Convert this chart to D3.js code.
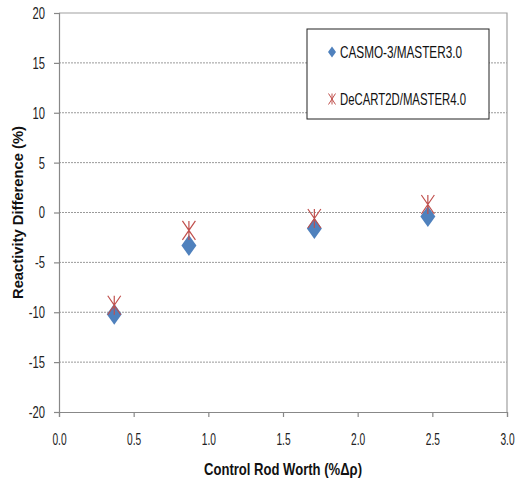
<!DOCTYPE html>
<html>
<head>
<meta charset="utf-8">
<script src="https://cdn.jsdelivr.net/npm/d3@7"></script>
<style>
  body { margin: 0; background: #fff; }
  .tick text { font-family: "Liberation Sans", Arial, sans-serif; font-size: 17px; fill: #222; }
</style>
</head>
<body>
<svg id="chart" width="517" height="482"></svg>
<script>
// values
const seriesNames = ['CASMO-3/MASTER3.0', 'DeCART2D/MASTER4.0'];
const rodWorth = [0.37, 0.87, 1.71, 2.47];
const casmoDiff = [-10.2, -3.3, -1.6, -0.4];
const decartDiff = [-9.3, -1.8, -0.6, 0.8];
const xTicks = [0, 0.5, 1, 1.5, 2, 2.5, 3];
const yTicks = [-20, -15, -10, -5, 0, 5, 10, 15, 20];

const svg = d3.select('#chart');

const plotLeft = 59, plotRight = 507, plotTop = 13, plotBottom = 412;

const x = d3.scaleLinear().domain([0, 3]).range([plotLeft, plotRight]);
const y = d3.scaleLinear().domain([-20, 20]).range([plotBottom, plotTop]);

// the reference font is tall and narrow, squeeze text horizontally
function squeeze(sel, factor) {
  sel.each(function() {
    const w = this.getComputedTextLength();
    d3.select(this).attr('textLength', w * factor).attr('lengthAdjust', 'spacingAndGlyphs');
  });
}

// gridlines
svg.append('g')
  .selectAll('line')
  .data(yTicks.filter(d => d > -20 && d < 20))
  .enter()
  .append('line')
  .attr('x1', plotLeft).attr('x2', plotRight)
  .attr('y1', d => y(d)).attr('y2', d => y(d))
  .attr('stroke', '#9a9a9a')
  .attr('stroke-dasharray', '2,1')
  .attr('stroke-width', 1);

// plot border (top & right)
svg.append('path')
  .attr('d', `M${plotLeft},${plotTop}H${plotRight}V${plotBottom}`)
  .attr('fill', 'none')
  .attr('stroke', '#a0a0a0')
  .attr('stroke-width', 1.2);

const xAxis = svg.append('g')
  .attr('transform', `translate(0, ${plotBottom})`)
  .call(d3.axisBottom(x).tickValues(xTicks).tickFormat(d3.format('.1f')).tickSizeOuter(0).tickSize(5).tickPadding(16));

const yAxis = svg.append('g')
  .attr('transform', `translate(${plotLeft}, 0)`)
  .call(d3.axisLeft(y).tickValues(yTicks).tickFormat(d3.format('d')).tickSizeOuter(0).tickSize(5).tickPadding(9));

svg.selectAll('.domain, .tick line').attr('stroke', '#888').attr('stroke-width', 1.2);
yAxis.selectAll('.tick text').text(d => d < 0 ? '-' + Math.abs(d) : d);

squeeze(xAxis.selectAll('.tick text'), 0.6);
squeeze(yAxis.selectAll('.tick text'), 0.66);

// markers
const diamond = (w, h) => `M0,${-h/2}L${w/2},0L0,${h/2}L${-w/2},0Z`;
const star = (w, h) => `M${-w/2},${-h/2}L${w/2},${h/2}M${w/2},${-h/2}L${-w/2},${h/2}M0,${-h/2}L0,${h/2}`;

const casmo = rodWorth.map((d, i) => ({x: d, y: casmoDiff[i]}));
const decart = rodWorth.map((d, i) => ({x: d, y: decartDiff[i]}));

svg.append('g')
  .selectAll('path')
  .data(casmo)
  .enter()
  .append('path')
  .attr('d', diamond(15, 21))
  .attr('transform', d => `translate(${x(d.x)}, ${y(d.y)})`)
  .attr('fill', '#4F81BD');

svg.append('g')
  .selectAll('path')
  .data(decart)
  .enter()
  .append('path')
  .attr('d', star(13, 19))
  .attr('transform', d => `translate(${x(d.x)}, ${y(d.y)})`)
  .attr('fill', 'none')
  .attr('stroke', '#C0504D')
  .attr('stroke-width', 1.2);

// legend
const legend = svg.append('g');
legend.append('rect')
  .attr('x', 307).attr('y', 29).attr('width', 182).attr('height', 90)
  .attr('fill', '#fff').attr('stroke', '#222').attr('stroke-width', 1);

const legendItems = legend.selectAll('g.item')
  .data(seriesNames)
  .enter()
  .append('g')
  .attr('class', 'item')
  .attr('transform', (d, i) => `translate(332, ${52 + i * 47})`);

legendItems.append('path')
  .attr('d', (d, i) => i === 0 ? diamond(8, 11) : star(7, 11))
  .attr('fill', (d, i) => i === 0 ? '#4F81BD' : 'none')
  .attr('stroke', (d, i) => i === 0 ? 'none' : '#C0504D')
  .attr('stroke-width', 1);

legendItems.append('text')
  .attr('x', 8)
  .attr('y', 6)
  .style('font-family', '"Liberation Sans", Arial, sans-serif')
  .style('font-size', '16.5px')
  .attr('fill', '#111')
  .attr('textLength', (d, i) => i === 0 ? 122 : 126)
  .attr('lengthAdjust', 'spacingAndGlyphs')
  .text(d => d);

// axis titles
svg.append('text')
  .attr('x', (plotLeft + plotRight) / 2)
  .attr('y', 475)
  .attr('text-anchor', 'middle')
  .style('font-family', '"Liberation Sans", Arial, sans-serif')
  .style('font-size', '16.5px')
  .style('font-weight', 'bold')
  .attr('fill', '#111')
  .attr('textLength', 158)
  .attr('lengthAdjust', 'spacingAndGlyphs')
  .text('Control Rod Worth (%Δρ)');

svg.append('text')
  .attr('transform', `translate(23, ${(plotTop + plotBottom) / 2}) rotate(-90)`)
  .attr('text-anchor', 'middle')
  .style('font-family', '"Liberation Sans", Arial, sans-serif')
  .style('font-size', '14px')
  .style('font-weight', 'bold')
  .attr('fill', '#111')
  .attr('textLength', 173)
  .attr('lengthAdjust', 'spacingAndGlyphs')
  .text('Reactivity Difference (%)');
</script>
</body>
</html>
